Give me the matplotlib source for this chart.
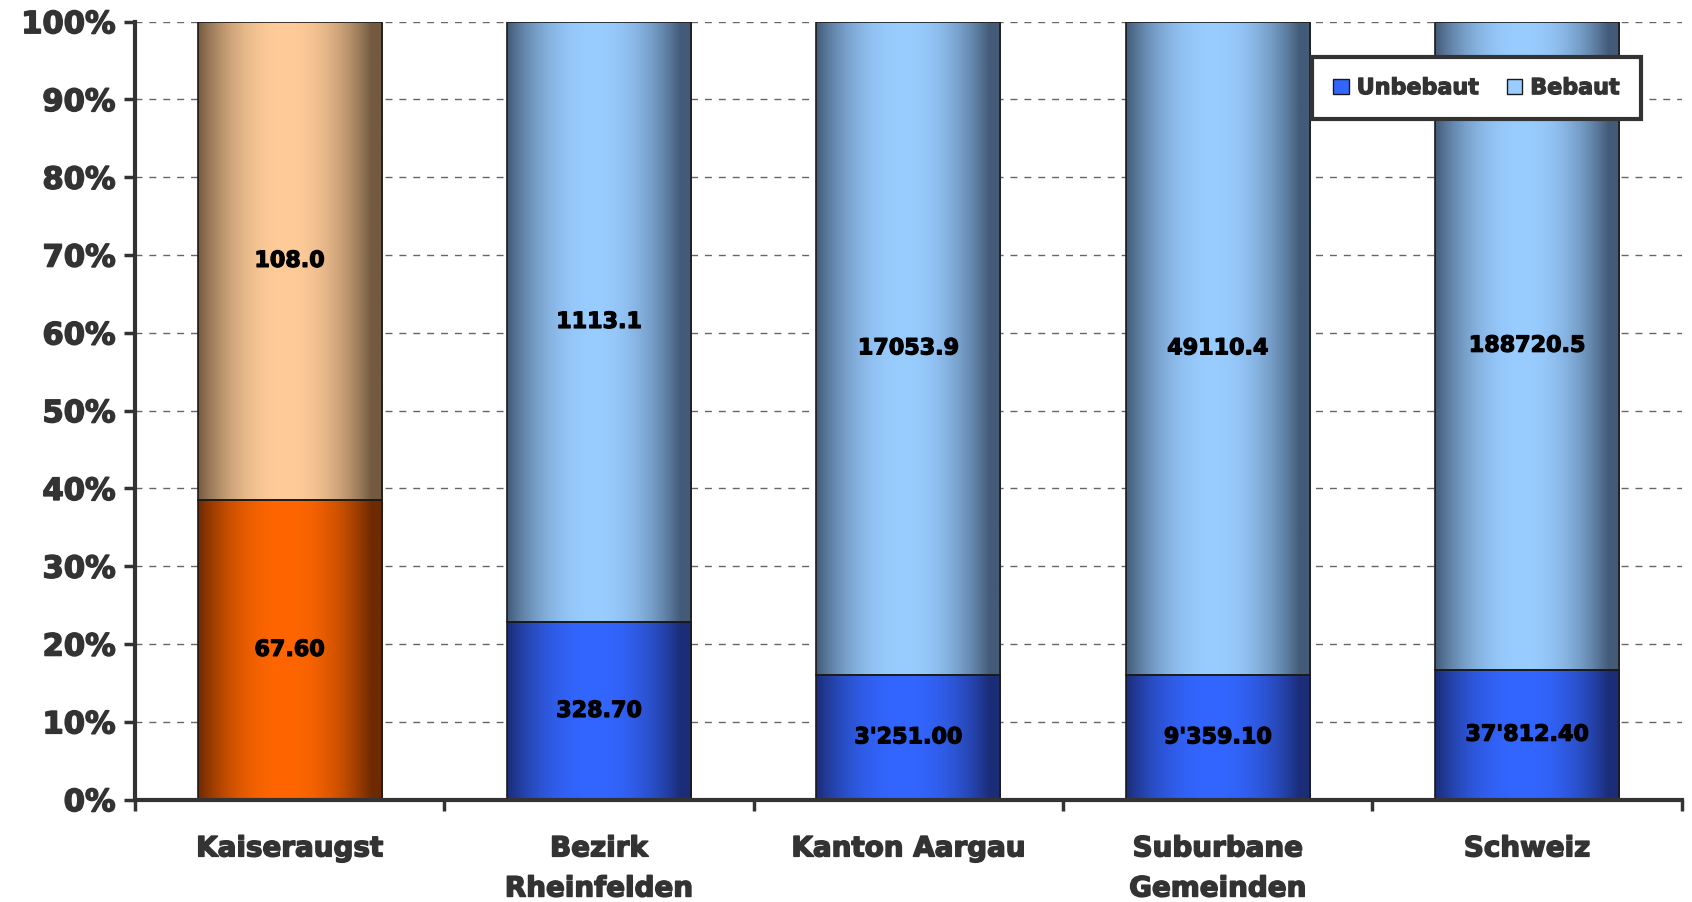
import numpy as np
import matplotlib.pyplot as plt
import matplotlib.patheffects as pe
from matplotlib.colors import to_rgb
from matplotlib.patches import Patch
from matplotlib.ticker import FixedLocator, PercentFormatter

# Bauzonen: unbebaute und bebaute Flächen (ha)
categories = ["Kaiseraugst", "Bezirk\nRheinfelden", "Kanton Aargau",
              "Suburbane\nGemeinden", "Schweiz"]
unbebaut = [67.60, 328.70, 3251.00, 9359.10, 37812.40]
bebaut = [108.0, 1113.1, 17053.9, 49110.4, 188720.5]

TEXT = "#333333"
# (edge, centre) colour pairs for the cylinder shading
BLUE_DARK = ("#1c2d78", "#3366ff")
BLUE_LIGHT = ("#435b78", "#99ccff")
ORANGE_DARK = ("#6e2a00", "#ff6600")
ORANGE_LIGHT = ("#735a40", "#ffcc99")


def swiss(v):
    return f"{v:,.2f}".replace(",", "'")


def heavy(color, lw=1.1):
    # thicken the bold face a little
    return [pe.withStroke(linewidth=lw, foreground=color)]


def gradient(edge, centre, n=256):
    x = np.linspace(0, 1, n)
    w = np.clip(1 - (np.abs(x - 0.47) / 0.47) ** 2.2, 0, 1)
    e, c = np.array(to_rgb(edge)), np.array(to_rgb(centre))
    row = e + (c - e) * w[:, None]
    return row[None, :, :]


totals = np.array(unbebaut) + np.array(bebaut)
share_u = np.array(unbebaut) / totals * 100
share_b = np.array(bebaut) / totals * 100
xpos = np.arange(len(categories))

fig = plt.figure(figsize=(16.92, 9.02), dpi=100)
ax = fig.add_axes([0.0798, 0.1135, 0.9142, 0.8625])

bars_u = ax.bar(xpos, share_u, width=0.595, facecolor="none",
                edgecolor="#1a1a1a", linewidth=1.2, zorder=3)
bars_b = ax.bar(xpos, share_b, bottom=share_u, width=0.595, facecolor="none",
                edgecolor="#1a1a1a", linewidth=1.2, zorder=3)

for i, (pu, pb) in enumerate(zip(bars_u, bars_b)):
    dark, light = (ORANGE_DARK, ORANGE_LIGHT) if i == 0 else (BLUE_DARK, BLUE_LIGHT)
    for patch, cols in ((pu, dark), (pb, light)):
        x0, y0 = patch.get_x(), patch.get_y()
        w, h = patch.get_width(), patch.get_height()
        im = ax.imshow(gradient(*cols), extent=[x0, x0 + w, y0, y0 + h],
                       aspect="auto", interpolation="bilinear", zorder=2.5)
        im.set_clip_path(patch)

for bars, labels in ((bars_u, [swiss(v) for v in unbebaut]),
                     (bars_b, [f"{v:.1f}" for v in bebaut])):
    for t in ax.bar_label(bars, labels=labels, label_type="center",
                          fontsize=16, fontweight="bold", color="black",
                          zorder=5):
        t.set_path_effects(heavy("black", 0.9))

ax.set_xlim(-0.5, len(categories) - 0.5)
ax.set_ylim(0, 100)

ax.yaxis.set_major_locator(FixedLocator(np.arange(0, 101, 10)))
ax.yaxis.set_major_formatter(PercentFormatter(decimals=0))
ax.tick_params(axis="y", direction="out", length=8, width=2.5, color=TEXT,
               labelsize=22, labelcolor=TEXT, pad=6)
for lbl in ax.get_yticklabels():
    lbl.set_fontweight("bold")
    lbl.set_path_effects(heavy(TEXT))

ax.set_xticks(xpos)
ax.set_xticklabels(categories, fontsize=20, fontweight="bold", color=TEXT,
                   linespacing=1.55, va="top")
for lbl in ax.get_xticklabels():
    lbl.set_path_effects(heavy(TEXT))
ax.set_xticks(np.arange(-0.5, len(categories)), minor=True)
ax.tick_params(axis="x", which="major", length=0, pad=25)
ax.tick_params(axis="x", which="minor", direction="out", length=8, width=2.5,
               color=TEXT)

ax.yaxis.grid(True, linestyle=(0, (5, 5)), color="#666666", linewidth=1)
ax.set_axisbelow(True)

for side in ("top", "right"):
    ax.spines[side].set_visible(False)
for side in ("left", "bottom"):
    ax.spines[side].set_color(TEXT)
    ax.spines[side].set_linewidth(3)
    ax.spines[side].set_zorder(4)

handles = [Patch(facecolor=BLUE_DARK[1], edgecolor="#1a1a1a", label="Unbebaut"),
           Patch(facecolor=BLUE_LIGHT[1], edgecolor="#1a1a1a", label="Bebaut")]
leg = ax.legend(handles=handles, ncol=2, loc="upper right",
                bbox_to_anchor=(0.9735, 0.9545), fancybox=False,
                framealpha=1, edgecolor=TEXT, handlelength=0.7,
                handleheight=0.7, handletextpad=0.35, columnspacing=1.26,
                borderpad=0.95, borderaxespad=0,
                prop={"size": 16, "weight": "bold"})
leg.get_frame().set_linewidth(3)
for t in leg.get_texts():
    t.set_color(TEXT)
    t.set_path_effects(heavy(TEXT, 0.9))
leg.set_zorder(6)

fig.savefig("out.png", dpi=100)
